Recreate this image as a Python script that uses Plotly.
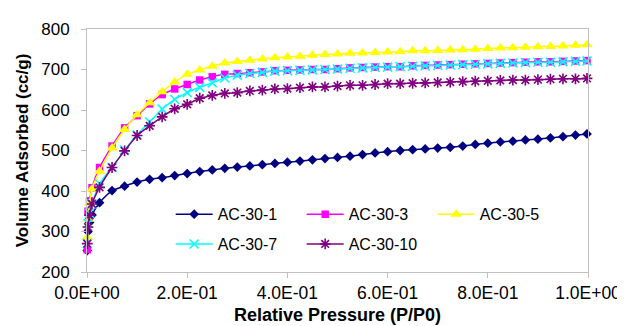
import plotly.graph_objects as go

# Relative pressure (P/P0) of the measured points
pressure = [0.0005, 0.002, 0.005, 0.01, 0.025, 0.05, 0.075, 0.1, 0.125, 0.15, 0.175,
            0.2, 0.225, 0.25, 0.275, 0.3, 0.325, 0.35, 0.375, 0.4, 0.425, 0.45, 0.475,
            0.5, 0.525, 0.55, 0.575, 0.6, 0.625, 0.65, 0.675, 0.7, 0.725, 0.75, 0.775,
            0.8, 0.825, 0.85, 0.875, 0.9, 0.925, 0.95, 0.975, 0.998]

ac_30_1 = [253, 300, 322, 341, 371, 401, 412, 422, 429, 433, 438, 443, 448, 452, 456,
           459, 462, 465, 468, 471, 474, 477, 480, 483, 486, 490, 494, 497, 500, 502,
           504, 506, 508, 511, 515, 518, 521, 523, 526, 528, 531, 534, 538, 541]
ac_30_3 = [255, 350, 376, 408, 458, 511, 556, 586, 615, 638, 652, 663, 674, 682, 688,
           690, 692, 694, 697, 698, 699, 700, 700, 702, 704, 705, 706, 707, 707, 709,
           710, 711, 712, 713, 714, 715, 716, 717, 718, 719, 719, 720, 721, 722]
ac_30_5 = [286, 330, 370, 405, 449, 506, 552, 588, 618, 645, 669, 688, 699, 708, 716,
           720, 723, 726, 729, 731, 733, 735, 737, 738, 740, 741, 742, 743, 744, 746,
           746, 747, 748, 749, 750, 752, 753, 754, 755, 756, 757, 758, 760, 761]
ac_30_7 = [270, 320, 345, 368, 418, 458, 501, 538, 571, 602, 626, 643, 656, 667, 679,
           686, 690, 693, 696, 697, 698, 699, 700, 701, 703, 704, 705, 706, 707, 708,
           709, 710, 711, 712, 713, 714, 715, 716, 717, 718, 718, 719, 720, 721]
ac_30_10 = [270, 311, 340, 368, 409, 458, 499, 537, 561, 583, 603, 614, 629, 636, 641,
            643, 647, 649, 652, 653, 655, 657, 657, 659, 661, 661, 663, 665, 665, 666,
            667, 668, 669, 670, 671, 672, 673, 674, 674, 675, 676, 677, 677, 678]

series_names = ["AC-30-1", "AC-30-3", "AC-30-5", "AC-30-7", "AC-30-10"]
x_tick_vals = [0.0, 0.2, 0.4, 0.6, 0.8, 1.0]
x_tick_text = ["0.0E+00", "2.0E-01", "4.0E-01", "6.0E-01", "8.0E-01", "1.0E+00"]
y_tick_vals = [200, 300, 400, 500, 600, 700, 800]

FONT = "Arial, Liberation Sans, sans-serif"

styles = [
    dict(color="#000080", symbol="diamond", size=7.5, lw=0, lc="#000080", legend="legend"),
    dict(color="#FF00FF", symbol="square", size=7.5, lw=0, lc="#FF00FF", legend="legend"),
    dict(color="#FFFF00", symbol="triangle-up", size=10, lw=0, lc="#FFFF00", legend="legend"),
    dict(color="#00FFFF", symbol="x-thin", size=9, lw=1.6, lc="#00FFFF", legend="legend2"),
    dict(color="#800080", symbol="asterisk", size=9, lw=1.6, lc="#800080", legend="legend2"),
]
values = [ac_30_1, ac_30_3, ac_30_5, ac_30_7, ac_30_10]

fig = go.Figure()
for name, vals, st in zip(series_names, values, styles):
    fig.add_trace(go.Scatter(
        x=pressure, y=vals, name=name, mode="lines+markers",
        line=dict(color=st["color"], width=1.5, shape="spline", smoothing=0.6),
        marker=dict(symbol=st["symbol"], size=st["size"], color=st["color"],
                    line=dict(width=st["lw"], color=st["lc"])),
        cliponaxis=False, legend=st["legend"],
    ))

legend_common = dict(
    orientation="h", xanchor="left", yanchor="middle",
    font=dict(family=FONT, size=16, color="#000000"),
    bgcolor="rgba(0,0,0,0)", borderwidth=0,
    entrywidth=79, entrywidthmode="pixels", itemwidth=37,
)

fig.update_layout(
    width=625, height=326,
    margin=dict(l=79, r=37, t=21, b=61),
    paper_bgcolor="white", plot_bgcolor="white",
    font=dict(family=FONT, size=17, color="#000000"),
    showlegend=True,
    legend=dict(x=0.167, y=0.2375, **legend_common),
    legend2=dict(x=0.167, y=0.115, **legend_common),
    xaxis=dict(
        range=[0, 1], tickvals=x_tick_vals, ticktext=x_tick_text,
        showgrid=False, zeroline=False, showline=True, linecolor="#c0c0c0",
        linewidth=1, mirror=True, ticks="outside", ticklen=5, tickcolor="#c0c0c0",
        tickfont=dict(family=FONT, size=17.5),
        title=dict(text="<b>Relative Pressure (P/P0)</b>",
                   font=dict(family=FONT, size=18), standoff=6),
    ),
    yaxis=dict(
        range=[200, 800], tickvals=y_tick_vals,
        showgrid=False, zeroline=False, showline=True, linecolor="#c0c0c0",
        linewidth=1, mirror=True, ticks="outside", ticklen=5, tickcolor="#c0c0c0",
        tickfont=dict(family=FONT, size=17), ticklabelstandoff=8,
        title=dict(text="<b>Volume Adsorbed (cc/g)</b>",
                   font=dict(family=FONT, size=17), standoff=8),
    ),
)

fig.write_html("out.html")
